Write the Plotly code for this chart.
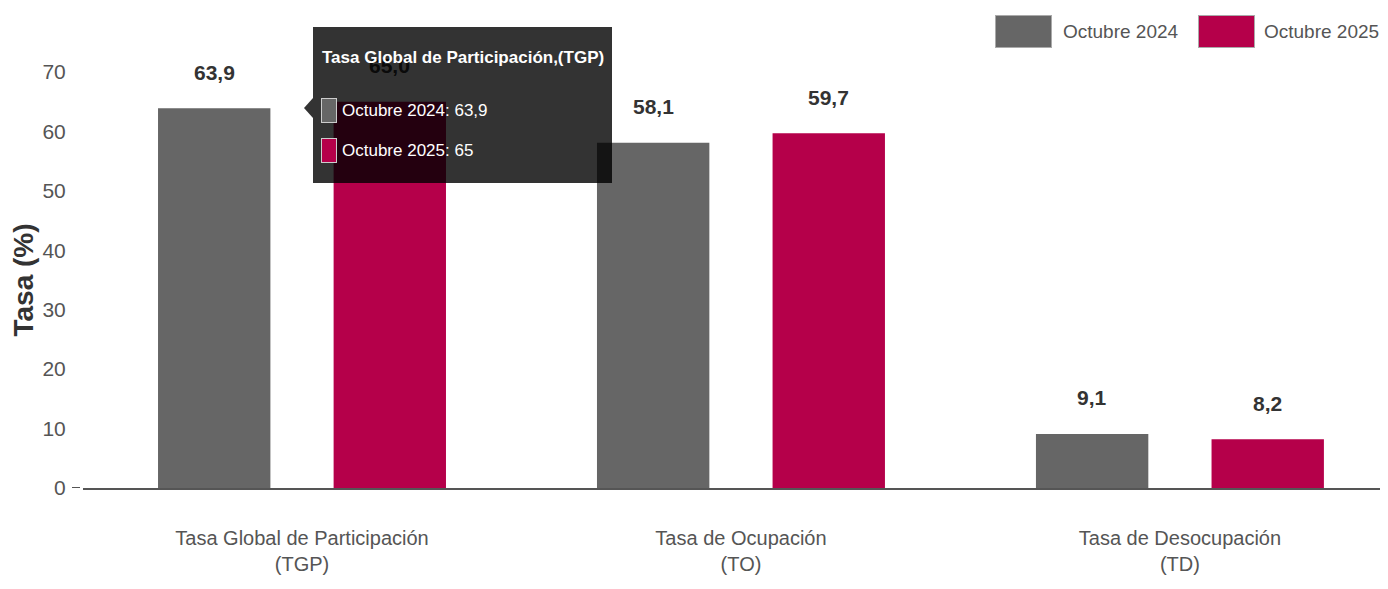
import plotly.graph_objects as go

# ---------------- data ----------------
categories = ["Tasa Global de Participación", "Tasa de Ocupación", "Tasa de Desocupación"]
category_codes = ["TGP", "TO", "TD"]
series_names = ["Octubre 2024", "Octubre 2025"]
values_2024 = [63.9, 58.1, 9.1]
values_2025 = [65.0, 59.7, 8.2]
y_tick_values = [0, 10, 20, 30, 40, 50, 60, 70]
y_axis_title = "Tasa (%)"
tooltip_index = 0  # category whose tooltip is shown in the picture

# ---------------- style ----------------
colors = ["#666666", "#B5004A"]
FONT = "Liberation Sans, Arial, Helvetica, sans-serif"
PAGE_OFFSET = 8                       # default body margin of the html page
W, H = 1388 - PAGE_OFFSET, 589 - PAGE_OFFSET
# plot area in window pixels
L, R, T, B = 83, 1388, 72, 488
BARGAP, GROUPGAP = 0.2, 0.36


def px(x):
    return (x - L) / (R - L)


def py(y):
    return (B - y) / (B - T)


def fmt1(v):
    return f"{v:.1f}".replace(".", ",")


def fmt_short(v):
    s = f"{v:.1f}"
    if s.endswith(".0"):
        s = s[:-2]
    return s.replace(".", ",")


tick_text = [f"{c}<br>({code})" for c, code in zip(categories, category_codes)]
all_values = [values_2024, values_2025]

fig = go.Figure()
for name, vals, col in zip(series_names, all_values, colors):
    fig.add_trace(go.Bar(
        x=tick_text, y=vals, name=name,
        marker=dict(color=col, line=dict(width=0)),
        showlegend=False, hoverinfo="skip",
    ))

fig.update_layout(
    width=W, height=H,
    margin=dict(l=L - PAGE_OFFSET, r=PAGE_OFFSET + W - R, t=T - PAGE_OFFSET, b=PAGE_OFFSET + H - B),
    paper_bgcolor="white", plot_bgcolor="white",
    barmode="group", bargap=BARGAP, bargroupgap=GROUPGAP,
    font=dict(family=FONT, color="#555555", size=20),
)
fig.update_xaxes(
    type="category", range=[-0.4989, 2.474],
    showline=True, linecolor="#555555", linewidth=2,
    showgrid=False, zeroline=False,
    ticks="outside", ticklen=31, tickcolor="rgba(0,0,0,0)",
    tickfont=dict(family=FONT, size=20, color="#555555"),
)
fig.update_yaxes(
    range=[0, 70], tickvals=y_tick_values,
    showgrid=False, zeroline=False, showline=False,
    ticks="outside", ticklen=12, tickcolor="rgba(0,0,0,0)",
    tickfont=dict(family=FONT, size=21, color="#555555"),
    title=dict(text=f"<b>{y_axis_title}</b>", standoff=16,
               font=dict(family=FONT, size=28, color="#333333")),
)

# small tick at zero
fig.add_shape(type="line", xref="paper", yref="y", x0=px(72), x1=px(80), y0=0, y1=0,
              line=dict(color="#555555", width=2))

# data labels
offsets = [-(1 - BARGAP) / 4, (1 - BARGAP) / 4]
for j, vals in enumerate(all_values):
    for i, v in enumerate(vals):
        fig.add_annotation(x=i + offsets[j], y=v, xref="x", yref="y", text=f"<b>{fmt1(v)}</b>",
                           showarrow=False, yshift=36, yanchor="middle",
                           font=dict(family=FONT, size=21, color="#333333"))

# legend (drawn)
legend_items = [(995, 1062), (1198, 1263)]
for (sx, tx), name, col in zip(legend_items, series_names, colors):
    fig.add_annotation(x=px(sx), y=py(15), xref="paper", yref="paper", xanchor="left", yanchor="top",
                       text=" ", showarrow=False, width=55, height=31, borderpad=0,
                       bgcolor=col, bordercolor="#aaaaaa", borderwidth=1)
    fig.add_annotation(x=px(tx), y=py(32), xref="paper", yref="paper", xanchor="left", yanchor="middle",
                       text=name, showarrow=False, borderpad=0,
                       font=dict(family=FONT, size=19, color="#555555"))

# tooltip (drawn over the TGP group)
TIP = "rgba(0,0,0,0.8)"
fig.add_annotation(x=px(313), y=py(27), xref="paper", yref="paper", xanchor="left", yanchor="top",
                   text=" ", showarrow=False, width=299, height=156, borderpad=0, borderwidth=0,
                   bgcolor=TIP)
fig.add_shape(type="path", xref="paper", yref="paper", layer="above",
              path=f"M {px(313)},{py(98)} L {px(304)},{py(108)} L {px(313)},{py(118)} Z",
              fillcolor=TIP, line=dict(width=0))
fig.add_annotation(x=px(320), y=py(57), xref="paper", yref="paper", xanchor="left", yanchor="middle",
                   text=f"<b>{categories[tooltip_index]},({category_codes[tooltip_index]})</b>",
                   showarrow=False, font=dict(family=FONT, size=17, color="white"))
for k, (name, vals, col, yc) in enumerate(zip(series_names, all_values, colors, [110, 150])):
    fig.add_annotation(x=px(329), y=py(yc), xref="paper", yref="paper", xanchor="center", yanchor="middle",
                       text=" ", showarrow=False, width=14, height=23, borderpad=0,
                       bgcolor=col, bordercolor="#cccccc", borderwidth=1)
    fig.add_annotation(x=px(340), y=py(yc), xref="paper", yref="paper", xanchor="left", yanchor="middle",
                       text=f"{name}: {fmt_short(vals[tooltip_index])}", showarrow=False,
                       font=dict(family=FONT, size=17, color="white"))

fig.write_html("out.html")
